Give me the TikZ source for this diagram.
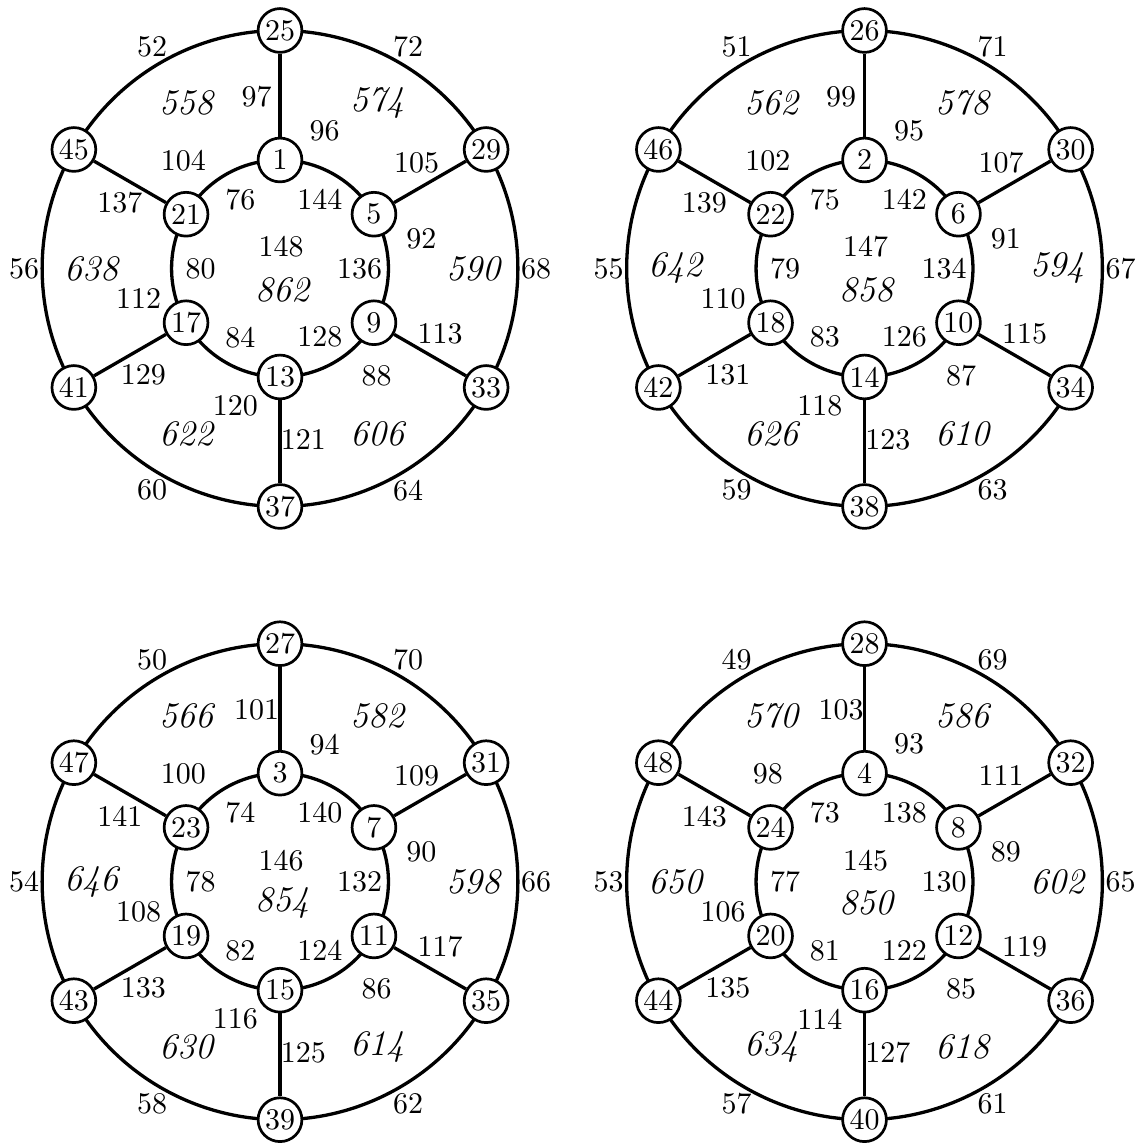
\documentclass[tikz,border=0pt]{standalone}
\pgfdeclarelayer{bg}
\pgfsetlayers{bg,main}
\tikzset{
  vtx/.style={circle, draw, line width=0.9pt, fill=white, minimum size=14.6pt, inner sep=0pt, font=\normalsize},
  edge/.style={line width=1.1pt},
  elab/.style={inner sep=0pt, font=\normalsize},
  flab/.style={inner sep=0pt, font=\large\itshape, xshift=0.8pt},
}
\begin{document}
\begin{tikzpicture}[x=0.33333pt, y=0.33333pt]
\useasboundingbox (0,0) rectangle (1143,1144);
\foreach \gk/\gx/\gy in {1/280/875.5, 2/864.5/875.5, 3/280/262.3, 4/864.5/262.3}{
  \begin{scope}[shift={(\gx,\gy)}]
    % vertices
    \foreach \jj in {0,...,5}{
      \pgfmathsetmacro\angA{90-60*\jj}
      \pgfmathtruncatemacro\valI{\gk+4*\jj}
      \pgfmathtruncatemacro\valO{24+\gk+4*\jj}
      \node[vtx] (i\gk-\jj) at (\angA:108.5) {\valI};
      \node[vtx] (o\gk-\jj) at (\angA:238) {\valO};
    }
    % edges
    \begin{pgfonlayer}{bg}
      \foreach \jj in {0,...,5}{
        \pgfmathtruncatemacro\jn{mod(\jj+1,6)}
        \draw[edge] (i\gk-\jj) -- (o\gk-\jj);
        \draw[edge] (i\gk-\jj.center) to[bend left=30, looseness=0.912] (i\gk-\jn.center);
        \draw[edge] (o\gk-\jj.center) to[bend left=30, looseness=0.912] (o\gk-\jn.center);
      }
    \end{pgfonlayer}
    % spoke labels
    \foreach \jj in {0,...,5}{
      \pgfmathsetmacro\angS{90-60*\jj+7.8}
      \pgfmathtruncatemacro\valS{95+2*\gk+8*\jj}
      \node[elab] at (\angS:173) {\valS};
    }
    % arc and face labels
    \foreach \mm/\obase/\ibase/\imul/\nbase/\nmul in {0/53/106/2/77/1, 1/73/97/1/146/2, 2/69/93/1/138/2, 3/65/89/1/130/2, 4/61/122/2/85/1, 5/57/114/2/81/1}{
      \pgfmathsetmacro\angM{120-60*\mm}
      \pgfmathsetmacro\angN{120-60*\mm+12}
      \pgfmathtruncatemacro\valOA{\obase-\gk}
      \pgfmathtruncatemacro\valIA{\ibase-\imul*\gk}
      \pgfmathtruncatemacro\valNA{\nbase-\nmul*\gk}
      \pgfmathtruncatemacro\valF{554+4*\gk+16*\mm}
      \node[elab] at (\angM:256) {\valOA};
      \node[elab] at (\angN:144.5) {\valIA};
      \node[elab] at (\angM:79.5) {\valNA};
      \node[flab] at (\angM:191) {\valF};
    }
    % centre labels
    \pgfmathtruncatemacro\valC{149-\gk}
    \pgfmathtruncatemacro\valCF{866-4*\gk}
    \node[elab] at (1,21.5) {\valC};
    \node[flab, xshift=-0.8pt] at (2,-21.5) {\valCF};
  \end{scope}
}
\end{tikzpicture}
\end{document}
